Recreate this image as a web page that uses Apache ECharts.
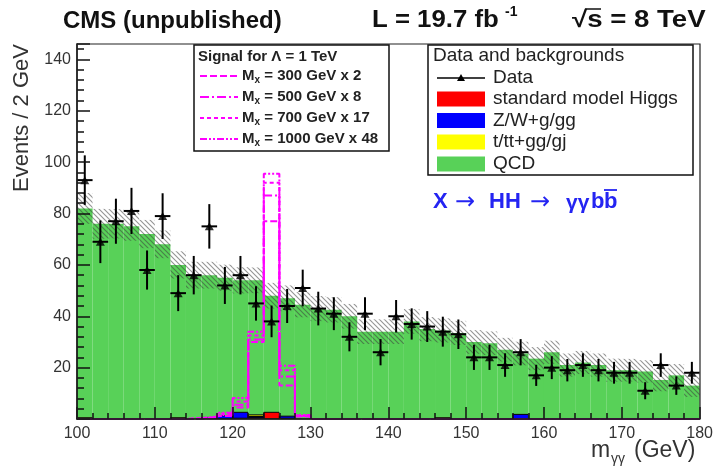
<!DOCTYPE html>
<html>
<head>
<meta charset="utf-8">
<script src="https://cdn.jsdelivr.net/npm/echarts@6/dist/echarts.min.js"></script>
<style>
  html, body { margin: 0; padding: 0; background: #fff; }
  #chart { width: 716px; height: 466px; }
</style>
</head>
<body>
<div id="chart"></div>
<script>
// Diphoton mass bins (centres, 2 GeV wide)
const massBins = [101,103,105,107,109,111,113,115,117,119,121,123,125,127,129,131,133,135,137,139,
                  141,143,145,147,149,151,153,155,157,159,161,163,165,167,169,171,173,175,177,179];

// Observed events per bin
const dataCounts = [93,69,77,81,58,79,49,56,75,52,56,45,38,44,51,43,41,32,41,26,
                    40,37,36,34,33,24,24,21,26,17,20,19,21,19,18,18,11,21,13,18];

// Background components (events per bin)
const qcdCounts = [81.5,76,76,75,72,68,59.5,56,55.4,53.7,51.4,52.4,45.4,45.9,44.5,43,42.5,40,34,34,
                   34,38,35,34,33.5,30,29.5,27,23.7,23.5,26,21,22,21,19,19,18.5,15.2,17,13];
const smHiggs   = [0,0,0,0,0,0,0,0,0,0,0.3,0.5,2.6,0.3,0,0,0,0,0,0,
                   0,0,0,0,0,0,0,0,0,0,0,0,0,0,0,0,0,0,0,0];
const zwJets    = [0,0,0,0,0,0,0,0,0.6,1.3,2.3,0.5,0,0.8,0,0,0,0,0,0,
                   0,0,0,0,0,0,0,0,1.8,0,0,0,0,0,0,0,0,0,0,0];
const topJets   = [0.5,0,0,0,0,0,0.5,0,0,0,0,0.6,0,0,0,0,0,0,0,0,
                   0,0,0,0.5,0,0,0,0,0,0,0,0,0,0,0,0,0,0,0,0];
// Total background uncertainty (+/-)
const bkgUnc    = [6,5.8,5.7,5.6,5.5,5.4,5.3,5.2,5.2,5.1,5.1,5,5,5,4.9,4.9,4.9,4.8,4.8,4.8,
                   4.8,4.8,4.7,4.7,4.7,4.6,4.6,4.6,4.6,4.5,4.5,4.5,4.5,4.5,4.5,4.4,4.4,4.4,4.4,4.4];

// Scaled signal expectations
const sig300  = [0,0,0,0,0,0,0,0.2,0.4,1.2,4.5,30,77,13,1.0,0,0,0,0,0,0,0,0,0,0,0,0,0,0,0,0,0,0,0,0,0,0,0,0,0];
const sig500  = [0,0,0,0,0,0,0,0.2,0.6,1.6,5.5,31,87,16.5,1.2,0,0,0,0,0,0,0,0,0,0,0,0,0,0,0,0,0,0,0,0,0,0,0,0,0];
const sig700  = [0,0,0,0,0,0,0,0.3,0.8,2.0,6.8,32.5,92,19,1.4,0,0,0,0,0,0,0,0,0,0,0,0,0,0,0,0,0,0,0,0,0,0,0,0,0];
const sig1000 = [0,0,0,0,0,0,0,0.3,1.0,2.4,8.2,34,95.5,20.7,1.6,0,0,0,0,0,0,0,0,0,0,0,0,0,0,0,0,0,0,0,0,0,0,0,0,0];

const HALF = 1;                 // half bin width in GeV
const FONT = 'Liberation Sans, Arial, Helvetica, sans-serif';
const GREEN = '#58d158', MAGENTA = '#ff00ff', BLUE = '#2424f2';

// diagonal hatch pattern for the uncertainty band
function hatchPattern() {
  const c = document.createElement('canvas');
  c.width = 5; c.height = 5;
  const g = c.getContext('2d');
  g.strokeStyle = 'rgba(60,60,60,0.55)';
  g.lineWidth = 1.1;
  g.beginPath();
  g.moveTo(-1, -1); g.lineTo(6, 6);
  g.moveTo(-1, 4); g.lineTo(1, 6);
  g.moveTo(4, -1); g.lineTo(6, 1);
  g.stroke();
  return { image: c, repeat: 'repeat' };
}
const HATCH = hatchPattern();

function rectBetween(api, x0, y0, x1, y1) {
  const a = api.coord([x0, y0]), b = api.coord([x1, y1]);
  return { x: a[0], y: Math.min(a[1], b[1]), width: b[0] - a[0], height: Math.abs(a[1] - b[1]) };
}

function stepLine(values) {
  const pts = massBins.map((m, i) => [m - HALF, values[i]]);
  pts.push([massBins[massBins.length - 1] + HALF, values[values.length - 1]]);
  return pts;
}

const totals = massBins.map((m, i) => qcdCounts[i] + smHiggs[i] + zwJets[i] + topJets[i]);

const chart = echarts.init(document.getElementById('chart'), null, { renderer: 'canvas' });

const axisCommon = {
  axisLine: { lineStyle: { color: '#111', width: 1.5 } },
  axisTick: { inside: true, lineStyle: { color: '#111', width: 1.5 } },
  minorTick: { show: true, splitNumber: 5, lineStyle: { color: '#111', width: 1.5 } },
  splitLine: { show: false },
  z: 10
};

const signalSeries = [
  [sig300, [7, 3]],
  [sig500, [9, 3, 2, 3]],
  [sig700, [4, 3]],
  [sig1000, [7, 2, 2, 2, 2, 2]]
].map(([vals, dash]) => ({
  type: 'line', step: 'end', symbol: 'none', z: 6,
  data: stepLine(vals),
  lineStyle: { color: MAGENTA, width: 2, type: dash }
}));

function txt(x, y, text, font, fill, extra) {
  return Object.assign({ type: 'text', z: 30, x, y,
    style: { text, font, fill, textVerticalAlign: 'middle' } }, extra || {});
}

const option = {
  animation: false,
  grid: { left: 77, right: 16, top: 44, bottom: 47 },
  xAxis: Object.assign({}, axisCommon, {
    type: 'value', min: 100, max: 180, interval: 10,
    axisTick: Object.assign({}, axisCommon.axisTick, { length: 12 }),
    minorTick: Object.assign({}, axisCommon.minorTick, { length: 6 }),
    axisLabel: { fontSize: 16, color: '#333', margin: 7, fontFamily: FONT }
  }),
  yAxis: Object.assign({}, axisCommon, {
    type: 'value', min: 0, max: 146, interval: 20,
    axisTick: Object.assign({}, axisCommon.axisTick, { length: 13 }),
    minorTick: Object.assign({}, axisCommon.minorTick, { length: 7 }),
    axisLabel: {
      fontSize: 16, color: '#333', margin: 6, fontFamily: FONT,
      formatter: v => (v > 0 && v % 20 === 0) ? String(v) : ''
    }
  }),
  series: [
    // stacked backgrounds
    {
      type: 'custom', z: 2, clip: true,
      data: massBins.map((m, i) => [m, i]),
      renderItem(params, api) {
        const x = api.value(0), i = api.value(1);
        const children = [];
        const small = smHiggs[i] + zwJets[i] + topJets[i];
        children.push({ type: 'rect', shape: rectBetween(api, x - HALF, small, x + HALF, small + qcdCounts[i]),
                        style: { fill: GREEN } });
        let base = 0;
        [[smHiggs[i], '#ff0000'], [zwJets[i], '#0000ff'], [topJets[i], '#ffff00']].forEach(([v, c]) => {
          if (v <= 0) return;
          children.push({ type: 'rect', shape: rectBetween(api, x - HALF, base, x + HALF, base + v),
                          style: { fill: c, stroke: '#000', lineWidth: 1 } });
          base += v;
        });
        return { type: 'group', children };
      }
    },
    // background uncertainty band
    {
      type: 'custom', z: 3, clip: true,
      data: massBins.map((m, i) => [m, i]),
      renderItem(params, api) {
        const x = api.value(0), i = api.value(1);
        return { type: 'rect', shape: rectBetween(api, x - HALF, totals[i] - bkgUnc[i], x + HALF, totals[i] + bkgUnc[i]),
                 style: { fill: HATCH } };
      }
    },
    ...signalSeries,
    // data error bars
    {
      type: 'custom', z: 8, clip: true,
      data: massBins.map((m, i) => [m, dataCounts[i]]),
      renderItem(params, api) {
        const x = api.value(0), n = api.value(1), e = Math.sqrt(n);
        const v0 = api.coord([x, n - e]), v1 = api.coord([x, n + e]);
        const h0 = api.coord([x - HALF, n]), h1 = api.coord([x + HALF, n]);
        const st = { stroke: '#000', lineWidth: 2 };
        return { type: 'group', children: [
          { type: 'line', shape: { x1: v0[0], y1: v0[1], x2: v1[0], y2: v1[1] }, style: st },
          { type: 'line', shape: { x1: h0[0], y1: h0[1], x2: h1[0], y2: h1[1] }, style: st }
        ] };
      }
    },
    // data markers
    {
      type: 'scatter', z: 9, symbol: 'triangle', symbolSize: [9, 8],
      itemStyle: { color: '#000' },
      data: massBins.map((m, i) => [m, dataCounts[i]])
    }
  ],
  graphic: [
    // plot frame
    { type: 'rect', z: 20, silent: true, shape: { x: 77, y: 44, width: 623, height: 375 },
      style: { fill: null, stroke: '#222', lineWidth: 1.2 } },
    // header
    txt(63, 21, 'CMS (unpublished)', 'bold 24px ' + FONT, '#111'),
    txt(372, 21, 'L = 19.7 fb', 'bold 23px ' + FONT, '#111', { scaleX: 1.12 }),
    txt(505, 12, '-1', 'bold 14px ' + FONT, '#111'),
    txt(572, 21, '√s = 8 TeV', 'bold 23px ' + FONT, '#111', { scaleX: 1.2 }),
    { type: 'line', z: 30, shape: { x1: 585, y1: 9, x2: 601, y2: 9 }, style: { stroke: '#111', lineWidth: 1.5 } },
    // axis titles
    { type: 'text', z: 30, x: 22, y: 192, rotation: Math.PI / 2,
      style: { text: 'Events / 2 GeV', font: '22px ' + FONT, fill: '#333', textAlign: 'left', textVerticalAlign: 'middle' } },
    txt(591, 451, 'm', '23px ' + FONT, '#333'),
    txt(611, 459, 'γγ', '14px ' + FONT, '#333'),
    txt(634, 451, '(GeV)', '23px ' + FONT, '#333'),
    // signal legend
    { type: 'rect', z: 25, shape: { x: 194, y: 45, width: 195, height: 106 }, style: { fill: '#fff', stroke: '#111', lineWidth: 1.5 } },
    txt(198, 57, 'Signal for Λ = 1 TeV', 'bold 15px ' + FONT, '#222'),
    ...[['300', '2', [7, 3]], ['500', '8', [9, 3, 2, 3]], ['700', '17', [4, 3]], ['1000', '48', [7, 2, 2, 2, 2, 2]]]
      .flatMap(([mx, k, dash], j) => {
        const y = 76 + j * 21;
        return [
          { type: 'line', z: 30, shape: { x1: 200, y1: y, x2: 238, y2: y }, style: { stroke: MAGENTA, lineWidth: 2, lineDash: dash } },
          { type: 'text', z: 30, x: 242, y: y, style: {
              text: '{m|M}{s|x}{t| = ' + mx + ' GeV x ' + k + '}',
              rich: {
                m: { font: 'bold 15px ' + FONT, fill: '#222' },
                s: { font: 'bold 10px ' + FONT, fill: '#222', padding: [8, 0, 0, 0] },
                t: { font: 'bold 15px ' + FONT, fill: '#222' }
              },
              textVerticalAlign: 'middle' } }
        ];
      }),
    // data and backgrounds legend
    { type: 'rect', z: 25, shape: { x: 428, y: 45, width: 265, height: 130 }, style: { fill: '#fff', stroke: '#111', lineWidth: 1.5 } },
    txt(433, 56, 'Data and backgrounds', '19px ' + FONT, '#222'),
    { type: 'line', z: 30, shape: { x1: 437, y1: 78, x2: 485, y2: 78 }, style: { stroke: '#000', lineWidth: 1.5 } },
    { type: 'polygon', z: 30, shape: { points: [[461, 74], [465, 81], [457, 81]] }, style: { fill: '#000' } },
    txt(493, 78, 'Data', '19px ' + FONT, '#222'),
    ...[['standard model Higgs', '#ff0000', 99], ['Z/W+g/gg', '#0000ff', 120.5], ['t/tt+gg/gj', '#ffff00', 142], ['QCD', GREEN, 164]]
      .flatMap(([label, col, y]) => [
        { type: 'rect', z: 30, shape: { x: 437, y: y - 7.5, width: 48, height: 15 }, style: { fill: col } },
        txt(493, y, label, '19px ' + FONT, '#222')
      ]),
    // process label
    txt(433, 202, 'X', 'bold 22px ' + FONT, BLUE),
    txt(455, 203, '→', '24px DejaVu Sans', BLUE),
    txt(489, 202, 'HH', 'bold 22px ' + FONT, BLUE),
    txt(530, 203, '→', '24px DejaVu Sans', BLUE),
    txt(566, 203, 'γγ', 'bold 21px ' + FONT, BLUE),
    txt(591, 202, 'b', 'bold 22px ' + FONT, BLUE),
    txt(604, 202, 'b', 'bold 22px ' + FONT, BLUE),
    { type: 'line', z: 30, shape: { x1: 604, y1: 190, x2: 617, y2: 190 }, style: { stroke: BLUE, lineWidth: 1.8 } }
  ]
};

chart.setOption(option);
</script>
</body>
</html>
